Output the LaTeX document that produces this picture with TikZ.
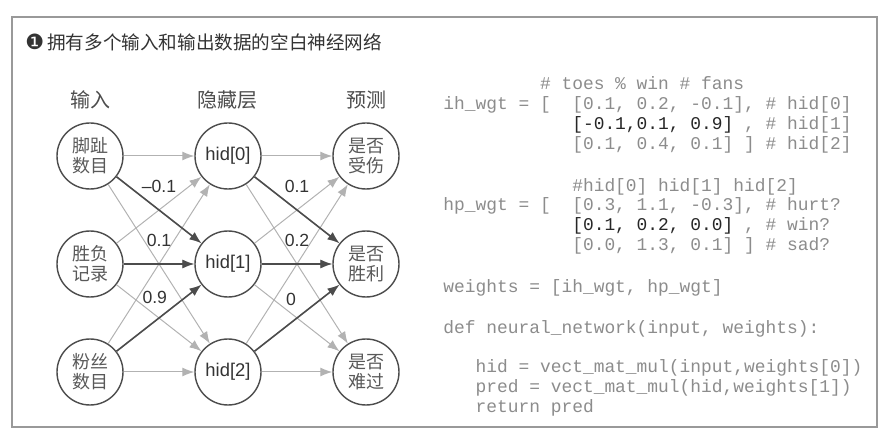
\documentclass[tikz,border=0pt]{standalone}
\usepackage{fontspec}
\setsansfont{Liberation Sans}
\setmonofont{Liberation Mono}
\newfontfamily\cjk{Noto Sans CJK SC}
\newfontfamily\symfont{DejaVu Sans}
\usetikzlibrary{positioning,arrows.meta}
\tikzset{
>={Latex[length=6pt,width=4.5pt]},
frame/.style={draw=black!40, line width=0.6pt},
title/.style={anchor=west, inner sep=0pt, text=black!80, font=\cjk\fontsize{9.3}{11}\selectfont},
neuron/.style={circle, draw=black!70, line width=0.7pt, fill=white, minimum size=33pt, inner sep=0pt,
  align=center, text=black!65, font=\cjk\fontsize{9}{10}\selectfont},
hidden/.style={neuron, text=black!80, font=\sffamily\fontsize{9.2}{11}\selectfont},
layer/.style={text=black!70, font=\cjk\fontsize{10}{12}\selectfont},
faint/.style={->, draw=black!30, line width=0.5pt},
strong/.style={->, draw=black!70, line width=0.8pt},
weight/.style={text=black!80, font=\sffamily\fontsize{8.8}{10}\selectfont},
code/.style={anchor=base west, inner sep=0pt, font=\ttfamily\fontsize{8.95}{10}\selectfont},
}
\frenchspacing

\begin{document}
\begin{tikzpicture}[x=0.5pt, y=0.5pt, node distance=69pt]

    \useasboundingbox (0,0) rectangle (891,-433);
    \draw[frame] (12,-17) rectangle (877,-427);
    \node[title] (title) at (25,-42) {{\symfont\fontsize{10.5}{11}\selectfont ❶}\,拥有多个输入和输出数据的空白神经网络};

    % network
    \node[neuron] (toes) at (90,-156) {脚趾\\数目};
    \node[neuron,below of=toes,node distance=54pt] (record) {胜负\\记录};
    \node[neuron,below of=record,node distance=54pt] (fans) {粉丝\\数目};
    \node[hidden,right of=toes] (h0) {hid[0]};
    \node[hidden,right of=record] (h1) {hid[1]};
    \node[hidden,right of=fans] (h2) {hid[2]};
    \node[neuron,right of=h0] (hurt) {是否\\受伤};
    \node[neuron,right of=h1] (victory) {是否\\胜利};
    \node[neuron,right of=h2] (sad) {是否\\难过};

    \node[layer,above of=toes,node distance=28pt] (inlabel) {输入};
    \node[layer,above of=h0,node distance=28pt] (hidlabel) {隐藏层};
    \node[layer,above of=hurt,node distance=28pt] (outlabel) {预测};

    \foreach \a in {toes,record,fans}
        \foreach \b in {h0,h1,h2}
            \draw[faint] (\a) -- (\b);
    \foreach \a in {h0,h1,h2}
        \foreach \b in {hurt,victory,sad}
            \draw[faint] (\a) -- (\b);

    \draw (toes) edge[strong] node[weight,above=5pt] (w1) {–0.1} (h1);
    \draw (record) edge[strong] node[weight,above=5pt] (w2) {0.1} (h1);
    \draw (fans) edge[strong] node[weight,pos=.45,above=5pt] (w3) {0.9} (h1);
    \draw (h0) edge[strong] node[weight,above=5pt] (w4) {0.1} (victory);
    \draw (h1) edge[strong] node[weight,above=5pt] (w5) {0.2} (victory);
    \draw (h2) edge[strong] node[weight,pos=.43,above=5pt] (w6) {0} (victory);

    % code
    \foreach \y/\c/\clr/\txt [count=\i] in {
        90/9/black!45/{\# toes \% win \# fans},
        110/0/black!45/{ih\_wgt = [~ [0.1, 0.2, -0.1], \# hid[0]},
        130/12/black!85/{[-0.1,0.1, 0.9]},
        130/28/black!45/{, \# hid[1]},
        150/12/black!45/{[0.1, 0.4, 0.1] ] \# hid[2]},
        192/12/black!45/{\#hid[0] hid[1] hid[2]},
        211/0/black!45/{hp\_wgt = [~ [0.3, 1.1, -0.3], \# hurt?},
        231/12/black!85/{[0.1, 0.2, 0.0]},
        231/28/black!45/{, \# win?},
        251/12/black!45/{[0.0, 1.3, 0.1] ] \# sad?},
        293/0/black!45/{weights = [ih\_wgt, hp\_wgt]},
        334/0/black!45/{def neural\_network(input, weights):},
        373/3/black!45/{hid = vect\_mat\_mul(input,weights[0])},
        393/3/black!45/{pred = vect\_mat\_mul(hid,weights[1])},
        413/3/black!45/{return pred}}
        \node[code,text=\clr] (c\i) at (443+\c*10.74,-\y) {\txt};

\end{tikzpicture}
\end{document}
